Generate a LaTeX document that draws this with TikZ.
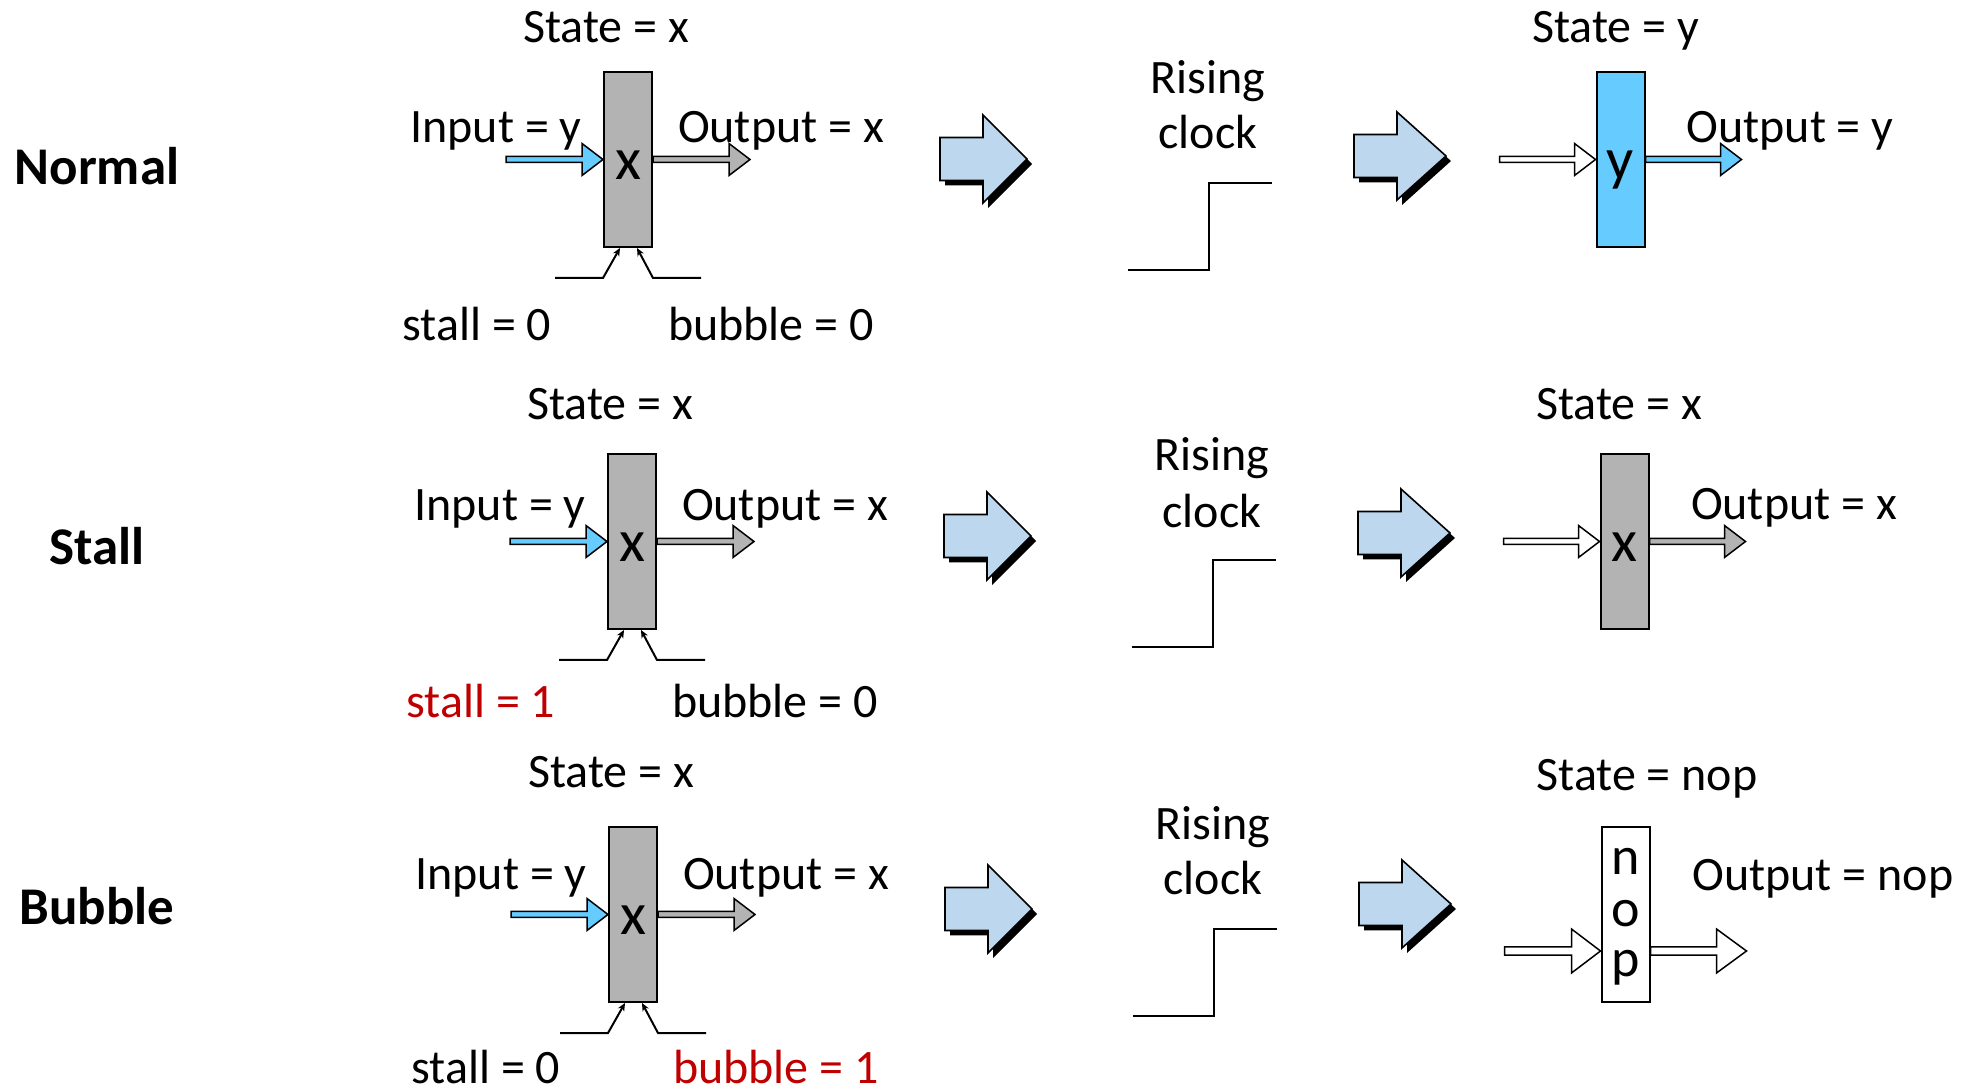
\documentclass[tikz,border=0pt]{standalone}
\usepackage{fontspec}
\setmainfont{Carlito}
\usetikzlibrary{arrows.meta}
\definecolor{regGray}{HTML}{B3B3B3}
\definecolor{cyanA}{HTML}{66CCFF}
\definecolor{stepBlue}{HTML}{BDD7EE}
\definecolor{ctlRed}{HTML}{C00000}

% Hollow "bus" arrow drawn backwards from its tip:
% #1 style, #2 tip, #3 total length, #4 head length, #5 head half-height, #6 shaft half-height
\newcommand\fatarrow[6]{%
  \draw[#1] (#2) -- ++(-#4,-#5) -- ++(0,#5-#6) -- ++(-#3+#4,0) -- ++(0,2*#6)
    -- ++(#3-#4,0) -- ++(0,#5-#6) -- cycle;}

% Stall / bubble control inputs entering the bottom of a register
\newcommand\ctlinputs[1]{%
  \draw[ctl] ([xshift=-24pt,yshift=-15pt]#1.south west) -- ([yshift=-15pt]#1.south west) -- ([xshift=-4pt]#1.south);
  \draw[ctl] ([xshift=24pt,yshift=-15pt]#1.south east) -- ([yshift=-15pt]#1.south east) -- ([xshift=4.5pt]#1.south);}

\tikzset{
  regbox/.style={draw, line width=1pt, minimum width=24pt, minimum height=87.5pt, inner sep=0pt},
  lbl/.style={anchor=base, inner sep=0pt, yshift=-1.5pt, font=\fontsize{24}{29}\selectfont},
  rowlbl/.style={inner sep=0pt, font=\fontsize{26.5}{32}\selectfont\bfseries},
  boxletter/.style={anchor=base, inner sep=0pt, font=\fontsize{30}{36}\selectfont},
  nopletter/.style={anchor=base, inner sep=0pt, font=\fontsize{27}{32}\selectfont},
  ctl/.style={line width=1pt, -{Stealth[length=4pt,width=3.5pt]}},
  fatline/.style={draw=black, line width=0.75pt, line join=miter},
  % big shadowed step arrow; the argument is the head length
  blockarrow/.pic={
    \fill[black, shift={(5,5)}] (0,-21.5) -- (43,-21.5) -- (43,-44) -- ({43+#1},0) -- (43,44) -- (43,21.5) -- (0,21.5) -- cycle;
    \draw[fill=stepBlue, line width=0.8pt, line join=miter] (0,-21.5) -- (43,-21.5) -- (43,-44) -- ({43+#1},0) -- (43,44) -- (43,21.5) -- (0,21.5) -- cycle;
  },
  clockedge/.pic={
    \draw[line width=1pt] (0,0) -- (81,0) -- (81,-87) -- (144,-87);
  }
}

\begin{document}
\begin{tikzpicture}[x=0.5pt,y=-0.5pt]
\useasboundingbox (0,0) rectangle (1967,1090);

% Row titles
\node[rowlbl] (tNormal) at (97,166) {Normal};
\node[rowlbl] (tStall)  at (97,546) {Stall};
\node[rowlbl] (tBubble) at (97,906) {Bubble};

% ---------------- Normal ----------------
\begin{scope}
  \node[regbox, fill=regGray] (a1) at (628,159.5) {};
  \node[boxletter] (a1x) at (628,180) {x};
  \node[lbl] (a1state) at (606,40) {State = x};
  \node[lbl] (a1in) at (496,140) {Input = y};
  \node[lbl] (a1out) at (781,140) {Output = x};
  \node[lbl] (a1stall) at (477,338) {stall = 0};
  \node[lbl] (a1bub) at (771,338) {bubble = 0};
  \fatarrow{fatline, fill=cyanA}{a1.west}{97}{21}{16}{3}
  \path (a1.east) ++(97,0) coordinate (a1o);
  \fatarrow{fatline, fill=regGray}{a1o}{97}{21}{16}{3}
  \ctlinputs{a1}

  \pic (ba1) at (940,159) {blockarrow=44};
  \pic (ck1) at (1128,270) {clockedge};
  \node[lbl] (rc1a) at (1208,91) {Rising};
  \node[lbl] (rc1b) at (1208,146) {clock};
  \pic (bb1) at (1354,156) {blockarrow=49};

  \node[regbox, fill=cyanA] (b1) at (1620.5,159.5) {};
  \node[boxletter] (b1y) at (1620,180) {y};
  \node[lbl] (b1state) at (1615.5,40) {State = y};
  \node[lbl] (b1out) at (1790,140) {Output = y};
  \fatarrow{fatline, fill=white}{b1.west}{96}{21}{16}{3}
  \path (b1.east) ++(96,0) coordinate (b1o);
  \fatarrow{fatline, fill=cyanA}{b1o}{96}{21}{16}{3}
\end{scope}

% ---------------- Stall ----------------
\begin{scope}[shift={(4,377)}]
  \node[regbox, fill=regGray] (a2) at (628,164.5) {};
  \node[boxletter] (a2x) at (628,185) {x};
  \node[lbl] (a2state) at (606,40) {State = x};
  \node[lbl] (a2in) at (496,141) {Input = y};
  \node[lbl] (a2out) at (781,141) {Output = x};
  \node[lbl, text=ctlRed] (a2stall) at (477,338) {stall = 1};
  \node[lbl] (a2bub) at (771,338) {bubble = 0};
  \fatarrow{fatline, fill=cyanA}{a2.west}{97}{21}{16}{3}
  \path (a2.east) ++(97,0) coordinate (a2o);
  \fatarrow{fatline, fill=regGray}{a2o}{97}{21}{16}{3}
  \ctlinputs{a2}

  \pic (ba2) at (940,159) {blockarrow=44};
  \pic (ck2) at (1128,270) {clockedge};
  \node[lbl] (rc2a) at (1208,91) {Rising};
  \node[lbl] (rc2b) at (1208,148) {clock};
  \pic (bb2) at (1354,156) {blockarrow=49};

  \node[regbox, fill=regGray] (b2) at (1620.5,164.5) {};
  \node[boxletter] (b2x) at (1620.5,185) {x};
  \node[lbl] (b2state) at (1615,40) {State = x};
  \node[lbl] (b2out) at (1790,140) {Output = x};
  \fatarrow{fatline, fill=white}{b2.west}{96}{21}{16}{3}
  \path (b2.east) ++(96,0) coordinate (b2o);
  \fatarrow{fatline, fill=regGray}{b2o}{96}{21}{16}{3}
\end{scope}

% ---------------- Bubble ----------------
\begin{scope}[shift={(5,746)}]
  \node[regbox, fill=regGray] (a3) at (628,168.5) {};
  \node[boxletter] (a3x) at (628,189) {x};
  \node[lbl] (a3state) at (606,39) {State = x};
  \node[lbl] (a3in) at (496,141) {Input = y};
  \node[lbl] (a3out) at (781,141) {Output = x};
  \node[lbl] (a3stall) at (481,334) {stall = 0};
  \node[lbl, text=ctlRed] (a3bub) at (771,334) {bubble = 1};
  \fatarrow{fatline, fill=cyanA}{a3.west}{97}{21}{16}{3}
  \path (a3.east) ++(97,0) coordinate (a3o);
  \fatarrow{fatline, fill=regGray}{a3o}{97}{21}{16}{3}
  \ctlinputs{a3}

  \pic (ba3) at (940,163) {blockarrow=44};
  \pic (ck3) at (1128,270) {clockedge};
  \node[lbl] (rc3a) at (1208,91) {Rising};
  \node[lbl] (rc3b) at (1208,146) {clock};
  \pic (bb3) at (1354,158) {blockarrow=49};

  \node[regbox, fill=white] (b3) at (1620.5,168.5) {};
  \node[nopletter] (b3n) at (1620.5,129) {n};
  \node[nopletter] (b3o2) at (1620.5,181) {o};
  \node[nopletter] (b3p) at (1620.5,231) {p};
  \node[lbl] (b3state) at (1642,42) {State = nop};
  \node[lbl] (b3out) at (1818,142) {Output = nop};
  \path (b3.west) ++(0,36.5) coordinate (b3i);
  \fatarrow{fatline, fill=white}{b3i}{96}{29}{22}{4}
  \path (b3.east) ++(96,36.5) coordinate (b3o);
  \fatarrow{fatline, fill=white}{b3o}{96}{30}{22}{4}
\end{scope}
\end{tikzpicture}
\end{document}
